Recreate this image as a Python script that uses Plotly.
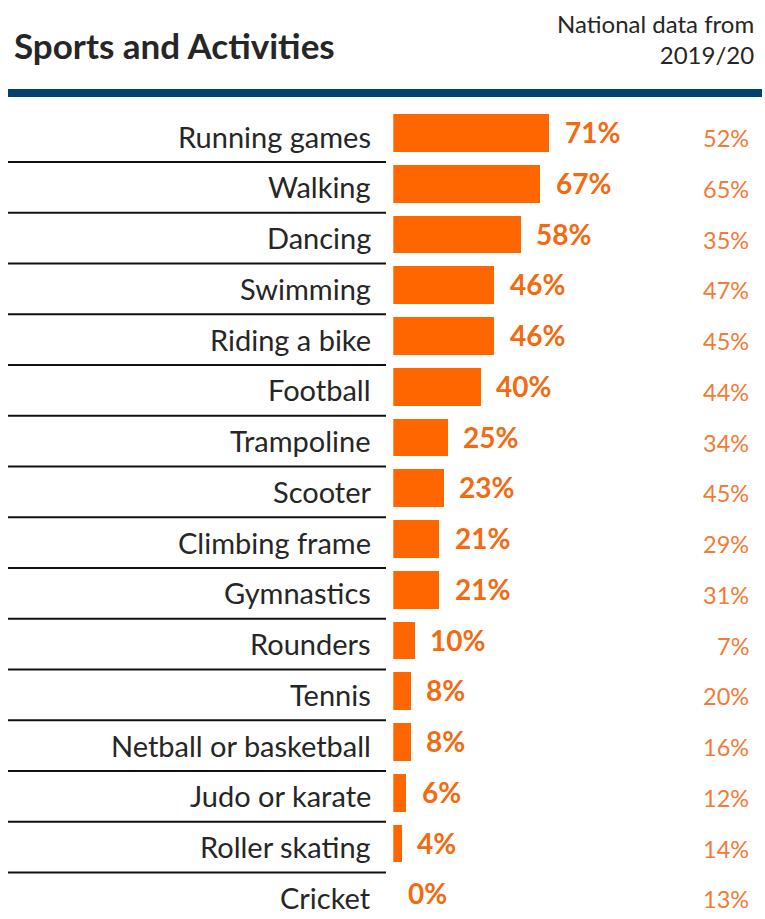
import plotly.graph_objects as go

categories = ["Running games", "Walking", "Dancing", "Swimming", "Riding a bike",
              "Football", "Trampoline", "Scooter", "Climbing frame", "Gymnastics",
              "Rounders", "Tennis", "Netball or basketball", "Judo or karate",
              "Roller skating", "Cricket"]
values = [71, 67, 58, 46, 46, 40, 25, 23, 21, 21, 10, 8, 8, 6, 4, 0]
national = [52, 65, 35, 47, 45, 44, 34, 45, 29, 31, 7, 20, 16, 12, 14, 13]

W, H = 765, 919
FONT = "Lato"
BAR = "#FF6600"
VAL = "#F36A10"
NAT = "#F47A35"
DARK = "#262626"

fig = go.Figure()
fig.add_trace(go.Bar(
    x=values, y=categories, orientation="h", width=0.74,
    marker=dict(color=BAR, line=dict(width=0)), hoverinfo="skip",
))

x0 = 393.3 / W
row0, step = 133.0, 50.75
fig.update_xaxes(domain=[x0, 1], range=[0, (W - 393.3) / 2.2], visible=False)
fig.update_yaxes(type="category", categoryorder="array", categoryarray=categories,
                 range=[(H - row0) / step, -row0 / step], visible=False)

ann = []
for c, v, n in zip(categories, values, national):
    ann.append(dict(x=373 / W, xref="paper", y=c, yref="y", text=c, showarrow=False,
                    xanchor="right", yanchor="middle", yshift=-3,
                    font=dict(family=FONT, size=29, color=DARK)))
    ann.append(dict(x=v, xref="x", y=c, yref="y", text=f"<b>{v}%</b>", showarrow=False,
                    xanchor="left", yanchor="middle", xshift=13, yshift=1,
                    font=dict(family=FONT, size=28, color=VAL)))
    ann.append(dict(x=751 / W, xref="paper", y=c, yref="y", text=f"{n}%", showarrow=False,
                    xanchor="right", yanchor="middle", yshift=-5,
                    font=dict(family=FONT, size=23.5, color=NAT)))

ann.append(dict(x=12 / W, xref="paper", y=1 - 45 / H, yref="paper",
                text="<b>Sports and Activities</b>", showarrow=False,
                xanchor="left", yanchor="middle",
                font=dict(family=FONT, size=35, color=DARK)))
ann.append(dict(x=756 / W, xref="paper", y=1 - 39 / H, yref="paper",
                text="National data from<br>2019/20", showarrow=False, align="right",
                xanchor="right", yanchor="middle",
                font=dict(family=FONT, size=24, color=DARK)))

shapes = [dict(type="line", xref="paper", yref="paper", x0=8 / W, x1=762 / W,
               y0=1 - 93 / H, y1=1 - 93 / H, line=dict(color="#034270", width=8))]
for i in range(len(categories) - 1):
    shapes.append(dict(type="line", xref="paper", yref="y", x0=8 / W, x1=386 / W,
                       y0=i + 0.57, y1=i + 0.57, line=dict(color="#111111", width=2)))

fig.update_layout(width=W, height=H, margin=dict(l=0, r=0, t=0, b=0),
                  paper_bgcolor="white", plot_bgcolor="white", showlegend=False,
                  annotations=ann, shapes=shapes, bargap=0)

fig.write_html("out.html", config={"displayModeBar": False},
               post_script="document.body.style.margin='0';document.body.style.overflow='hidden';")
